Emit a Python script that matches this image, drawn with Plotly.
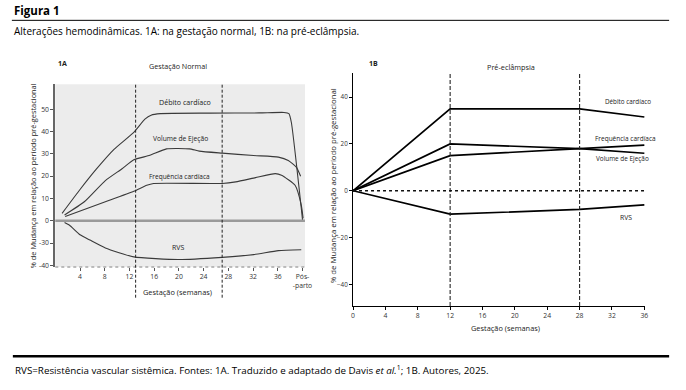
import plotly.graph_objects as go

W, H = 686, 390
FONT = "Open Sans"

# ---------------- Data: 1A (Gestação Normal) ----------------
weeks_a_ticks = [4, 8, 12, 16, 20, 24, 28, 32, 36, 40]
labels_a_ticks = ["4", "8", "12", "16", "20", "24", "28", "32", "36", "Pós-<br>-parto"]
y_a_tickvals_real = [50, 40, 30, 20, 10, 0, -30, -40]

dc_a_weeks = [1.1, 4.0, 6.6, 9.5, 12.7, 14.5, 15.5, 17.0, 25.0, 33.0, 37.0, 37.8, 38.2, 40.0]
dc_a_vals = [3.3, 14.0, 23.0, 32.0, 39.6, 45.5, 47.3, 48.0, 48.2, 48.3, 48.5, 48.0, 44.0, 0.5]

ve_a_weeks = [1.5, 4.7, 8.1, 10.8, 12.7, 15.3, 18.0, 21.7, 23.3, 27.0, 32.1, 36.1, 37.7, 39.0, 39.7]
ve_a_vals = [2.6, 8.5, 18.0, 23.3, 27.3, 29.3, 32.2, 32.2, 31.2, 30.3, 29.2, 28.5, 27.0, 24.0, 19.9]

fc_a_weeks = [1.6, 8.1, 12.7, 14.8, 15.9, 27.0, 29.2, 32.4, 35.6, 36.6, 38.8, 39.8, 40.1]
fc_a_vals = [1.9, 8.5, 13.2, 15.9, 16.7, 16.7, 17.4, 19.3, 21.1, 20.4, 15.9, 7.0, 1.1]

rvs_a_weeks = [1.5, 2.3, 4.0, 5.6, 8.1, 12.7, 19.9, 27.0, 32.1, 36.1, 39.8]
rvs_a_vals = [-2.4, -6.0, -18.9, -26.0, -32.2, -36.2, -37.4, -36.4, -35.2, -33.4, -33.0]

trimesters_a = [13, 27]

# ---------------- Data: 1B (Pré-eclâmpsia) ----------------
weeks_b = [0, 12, 28, 36]
dc_b = [0, 35, 35, 31.5]
fc_b = [0, 15, 18, 19.5]
ve_b = [0, 20, 18, 16]
rvs_b = [0, -10, -8, -6]
weeks_b_ticks = [0, 4, 8, 12, 16, 20, 24, 28, 32, 36]
y_b_ticks = [40, 20, 0, -20, -40]
trimesters_b = [12, 28]


def broken(v):
    """Map a real % value onto the broken 1A axis (0..-30 compressed, then -30..-40)."""
    if v >= 0:
        return v
    if v >= -30:
        return v / 3.0
    return v + 20.0


def px(x):
    return x / W


def py(y):
    return 1 - y / H


fig = go.Figure()

for xs, ys in [(dc_a_weeks, dc_a_vals), (ve_a_weeks, ve_a_vals),
               (fc_a_weeks, fc_a_vals), (rvs_a_weeks, rvs_a_vals)]:
    fig.add_trace(go.Scatter(x=xs, y=[broken(v) for v in ys], mode="lines",
                             line=dict(color="#3a3a3a", width=1.1, shape="spline", smoothing=0.5),
                             xaxis="x", yaxis="y", hoverinfo="skip"))

for ys in [dc_b, fc_b, ve_b, rvs_b]:
    fig.add_trace(go.Scatter(x=weeks_b, y=ys, mode="lines",
                             line=dict(color="#000000", width=1.7),
                             xaxis="x2", yaxis="y2", hoverinfo="skip"))

tickfont = dict(family=FONT, size=6.8, color="#333333")

fig.update_layout(
    width=W, height=H, margin=dict(l=0, r=0, t=0, b=0),
    paper_bgcolor="white", plot_bgcolor="rgba(0,0,0,0)", showlegend=False,
    font=dict(family=FONT, color="#222222"), hovermode=False,
    xaxis=dict(domain=[px(54), px(307)], range=[0, 40.4], anchor="y",
               tickvals=weeks_a_ticks, ticktext=labels_a_ticks, ticks="outside",
               ticklen=3, tickcolor="#555", tickfont=tickfont,
               showline=False, showgrid=False, zeroline=False),
    yaxis=dict(domain=[py(269), py(85)], range=[-20.7, 61.1], anchor="x",
               tickvals=[broken(v) for v in y_a_tickvals_real],
               ticktext=[str(v) for v in y_a_tickvals_real],
               ticks="outside", ticklen=3, tickcolor="#555", tickfont=tickfont,
               showline=True, linecolor="#666", linewidth=2,
               showgrid=False, zeroline=False),
    xaxis2=dict(domain=[px(355.7), px(651.7)], range=[0, 36.1], anchor="y2",
                tickvals=weeks_b_ticks, ticks="outside", ticklen=3, tickcolor="#000",
                tickfont=tickfont, showline=True, linecolor="#000", linewidth=1,
                showgrid=False, zeroline=False),
    yaxis2=dict(domain=[py(308.3), py(73.3)], range=[-49.2, 50.4], anchor="x2",
                tickvals=y_b_ticks, ticks="outside", ticklen=3, tickcolor="#000",
                tickfont=dict(family=FONT, size=6.3, color="#333333"),
                showline=True, linecolor="#000", linewidth=1,
                showgrid=False, zeroline=False),
)

shapes = []
shapes.append(dict(type="rect", xref="x domain", yref="y domain", x0=0, x1=1, y0=0, y1=1,
                   fillcolor="#ececec", line=dict(width=0), layer="below"))
shapes.append(dict(type="line", xref="x domain", yref="y", x0=0, x1=1, y0=0, y1=0,
                   line=dict(color="#9a9a9a", width=2.5), layer="below"))
shapes.append(dict(type="line", xref="x domain", yref="y domain", x0=0, x1=1, y0=0, y1=0,
                   line=dict(color="#a8a8a8", width=1.5, dash="dot")))
for t in trimesters_a:
    shapes.append(dict(type="line", xref="x", yref="paper", x0=t, x1=t, y0=py(300), y1=py(85),
                       line=dict(color="#222", width=1, dash="3px,2px")))
for t in trimesters_b:
    shapes.append(dict(type="line", xref="x2", yref="paper", x0=t, x1=t, y0=py(308.3), y1=py(73.3),
                       line=dict(color="#222", width=1.1, dash="4px,2px")))
shapes.append(dict(type="line", xref="x2", yref="y2", x0=0, x1=36, y0=0, y1=0,
                   line=dict(color="#111", width=1.4, dash="dot")))
shapes.append(dict(type="line", xref="paper", yref="paper", x0=px(10), x1=px(676), y0=py(20.5), y1=py(20.5),
                   line=dict(color="#000", width=1)))
shapes.append(dict(type="line", xref="paper", yref="paper", x0=px(11), x1=px(676), y0=py(359), y1=py(359),
                   line=dict(color="#000", width=2.5)))
fig.update_layout(shapes=shapes)


def ann(text, x, y, size=7, xanchor="center", angle=0, color="#222", bold=False):
    if bold:
        text = "<b>" + text + "</b>"
    return dict(text=text, x=px(x), y=py(y), xref="paper", yref="paper",
                xanchor=xanchor, yanchor="middle", showarrow=False, textangle=angle,
                font=dict(family=FONT, size=size, color=color))


ytitle = "% de Mudança em relação ao período pré-gestacional"
annotations = [
    ann("Figura 1", 10, 11, size=11.5, xanchor="left", color="#000", bold=True),
    ann("Alterações hemodinâmicas. 1A: na gestação normal, 1B: na pré-eclâmpsia.", 10, 31,
        size=10, xanchor="left", color="#000"),
    ann("1A", 55, 64, size=7, xanchor="left", bold=True),
    ann("Gestação Normal", 178, 67, size=7.2),
    ann("Débito cardíaco", 185, 103, size=7.1),
    ann("Volume de Ejeção", 181, 140, size=6.7),
    ann("Frequência cardíaca", 180, 178, size=6.5),
    ann("RVS", 178.5, 249, size=7),
    ann("Gestação (semanas)", 178, 294, size=7.4),
    ann(ytitle, 31, 177, size=7.4, angle=-90),
    ann("1B", 370, 64, size=7, xanchor="left", bold=True),
    ann("Pré-eclâmpsia", 516, 68, size=7.3),
    ann("Débito cardíaco", 634, 102, size=6.3),
    ann("Frequência cardíaca", 632, 140, size=6.5),
    ann("Volume de Ejeção", 629, 160, size=6.4),
    ann("RVS", 632.5, 219, size=6.8),
    ann("Gestação (semanas)", 510, 331, size=7.4),
    ann(ytitle, 335, 187, size=7.8, angle=-90),
    ann("RVS=Resistência vascular sistêmica. Fontes: 1A. Traduzido e adaptado de Davis <i>et al.</i>"
        "<sup>1</sup>; 1B. Autores, 2025.", 11, 373, size=9.8, xanchor="left", color="#000"),
]
fig.update_layout(annotations=annotations)

fig.write_html(
    "out.html",
    config={"displayModeBar": False, "staticPlot": True},
    post_script="document.body.style.margin='0';document.documentElement.style.overflow='hidden';",
)
